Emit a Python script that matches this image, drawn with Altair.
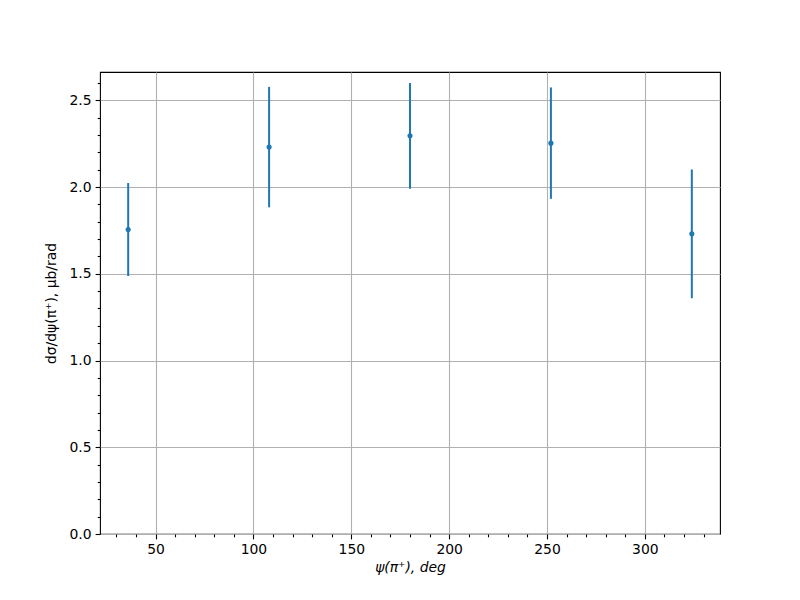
import altair as alt
import pandas as pd

# Data
psi = [36, 108, 180, 252, 324]
dsigma = [1.755, 2.23, 2.295, 2.253, 1.73]
err = [0.268, 0.347, 0.305, 0.321, 0.371]

x_ticks = list(range(30, 340, 10))
y_ticks = [round(i * 0.1, 1) for i in range(0, 27)]

df = pd.DataFrame({"psi": psi, "y": dsigma, "err": err})

BLUE = "#1f77b4"
FONT = "DejaVu Sans"

x_scale = alt.Scale(domain=[21.6, 338.4], nice=False, zero=False)
y_scale = alt.Scale(domain=[0, 2.663], nice=False, zero=False)

x_major = "datum.value % 50 == 0"
y_major = "abs(datum.value * 2 - round(datum.value * 2)) < 1e-6"

x_axis = alt.Axis(
    values=x_ticks,
    tickCount=200,
    format="d",
    labelExpr=f"{x_major} ? datum.label : ''",
    tickSize={"condition": {"test": x_major, "value": 4.9}, "value": 2.8},
    gridOpacity={"condition": {"test": x_major, "value": 1}, "value": 0},
    title="ψ(π⁺), deg",
    titleFontStyle="italic",
    titlePadding=4,
)
y_axis = alt.Axis(
    values=y_ticks,
    tickCount=200,
    format=".1f",
    labelExpr=f"{y_major} ? datum.label : ''",
    tickSize={"condition": {"test": y_major, "value": 4.9}, "value": 2.8},
    gridOpacity={"condition": {"test": y_major, "value": 1}, "value": 0},
    title="dσ/dψ(π⁺), μb/rad",
    titlePadding=11,
)

base = alt.Chart(df)

bars = base.transform_calculate(
    lo="datum.y - datum.err", hi="datum.y + datum.err"
).mark_rule(color=BLUE, strokeWidth=2).encode(
    x=alt.X("psi:Q", scale=x_scale, axis=x_axis),
    y=alt.Y("lo:Q", scale=y_scale, axis=y_axis),
    y2="hi:Q",
)

points = base.mark_circle(color=BLUE, size=26, opacity=1).encode(
    x=alt.X("psi:Q", scale=x_scale),
    y=alt.Y("y:Q", scale=y_scale),
)

chart = (
    alt.layer(bars, points)
    .properties(
        width=620,
        height=462,
        background="white",
        autosize=alt.AutoSizeParams(type="none"),
        padding={"left": 92, "top": 64, "right": 72, "bottom": 58},
    )
    .configure_view(stroke="black", strokeWidth=1.1)
    .configure_axis(
        domain=False,
        grid=True,
        gridColor="#b0b0b0",
        gridWidth=1.1,
        tickColor="black",
        tickWidth=1.1,
        labelFont=FONT,
        labelFontSize=13.9,
        labelColor="black",
        labelPadding=4,
        labelOverlap=False,
        labelFlush=False,
        titleFont=FONT,
        titleFontSize=13.9,
        titleFontWeight="normal",
        titleColor="black",
    )
)

chart.save("out.html", embed_options={"renderer": "svg", "actions": False})
